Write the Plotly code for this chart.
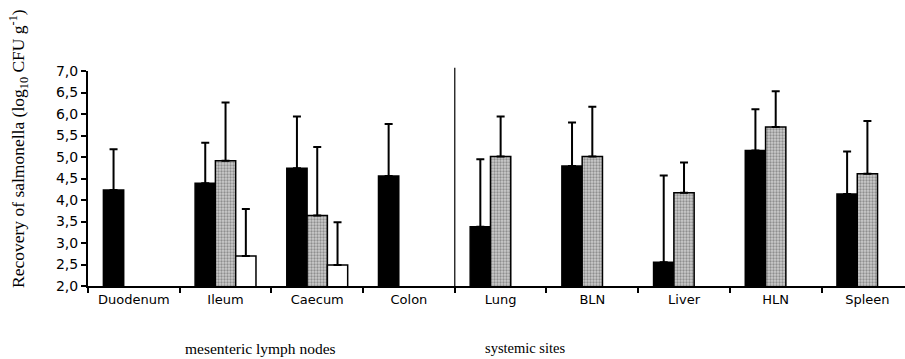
import plotly.graph_objects as go

categories = ["Duodenum", "Ileum", "Caecum", "Colon", "Lung", "BLN", "Liver", "HLN", "Spleen"]

black_mean = [4.23, 4.39, 4.74, 4.56, 3.38, 4.79, 2.55, 5.15, 4.14]
black_sd = [0.95, 0.94, 1.20, 1.21, 1.57, 1.01, 2.02, 0.96, 0.99]

grey_mean = [None, 4.91, 3.64, None, 5.01, 5.01, 4.17, 5.70, 4.61]
grey_sd = [None, 1.36, 1.59, None, 0.93, 1.16, 0.70, 0.83, 1.23]

white_mean = [None, 2.70, 2.49, None, None, None, None, None, None]
white_sd = [None, 1.09, 0.99, None, None, None, None, None, None]

y_tickvals = [2.0, 2.5, 3.0, 3.5, 4.0, 4.5, 5.0, 5.5, 6.0, 6.5, 7.0]
y_ticktext = ["2,0", "2,5", "3,0", "3,5", "4,0", "4,5", "5,0", "5,5", "6,0", "6,5", "7,0"]

group_labels = ["mesenteric lymph nodes", "systemic sites"]

err_style = dict(type="data", symmetric=False, color="black", thickness=2, width=4)

fig = go.Figure()
fig.add_trace(go.Bar(
    x=categories, y=black_mean, name="black",
    marker=dict(color="black", line=dict(color="black", width=1.5)),
    error_y=dict(array=black_sd, **err_style),
))
fig.add_trace(go.Bar(
    x=categories, y=grey_mean, name="grey",
    marker=dict(color="#c0c0c0", line=dict(color="black", width=1.5),
                pattern=dict(shape=".", fgcolor="#505050", bgcolor="#cccccc", size=3, solidity=0.45)),
    error_y=dict(array=grey_sd, **err_style),
))
fig.add_trace(go.Bar(
    x=categories, y=white_mean, name="white",
    marker=dict(color="white", line=dict(color="black", width=1.5)),
    error_y=dict(array=white_sd, **err_style),
))

fig.update_layout(
    width=905, height=359,
    margin=dict(l=88, r=0, t=71, b=73, autoexpand=False),
    paper_bgcolor="white", plot_bgcolor="white",
    barmode="group", bargap=0.336, bargroupgap=0,
    showlegend=False,
    font=dict(family="DejaVu Sans", size=13, color="black"),
)
fig.update_xaxes(
    type="category", range=[-0.5, 8.41], automargin=False,
    showline=True, linecolor="black", linewidth=2,
    ticks="outside", tickson="boundaries", ticklen=5, tickwidth=2, tickcolor="black",
    showgrid=False, zeroline=False,
    tickfont=dict(family="DejaVu Sans", size=13, color="black"),
)
fig.update_yaxes(
    range=[2, 7], tickvals=y_tickvals, ticktext=y_ticktext, automargin=False,
    showline=True, linecolor="black", linewidth=2,
    ticks="outside", ticklen=5, tickwidth=1.5, tickcolor="black",
    showgrid=False, zeroline=False,
    tickfont=dict(family="DejaVu Sans", size=14, color="black"),
)

fig.add_shape(type="line", xref="x", yref="paper", x0=3.5, x1=3.5, y0=0, y1=1.015,
              line=dict(color="black", width=1.2))

fig.add_annotation(
    text="Recovery of salmonella (log<sub>10</sub> CFU g<sup>-1</sup>)",
    xref="paper", yref="paper", x=-0.085, y=0.64, textangle=-90,
    showarrow=False, xanchor="center", yanchor="middle",
    font=dict(family="Liberation Serif", size=17.5, color="black"),
)
fig.add_annotation(text=group_labels[0], xref="x", yref="paper", x=1.38, y=-0.29,
                   showarrow=False, xanchor="center", yanchor="middle",
                   font=dict(family="Liberation Serif", size=15.5, color="black"))
fig.add_annotation(text=group_labels[1], xref="x", yref="paper", x=4.27, y=-0.29,
                   showarrow=False, xanchor="center", yanchor="middle",
                   font=dict(family="Liberation Serif", size=14.5, color="black"))

fig.write_html("out.html", config={"displayModeBar": False},
               post_script="document.body.style.margin='0px';document.body.style.overflow='hidden';")
